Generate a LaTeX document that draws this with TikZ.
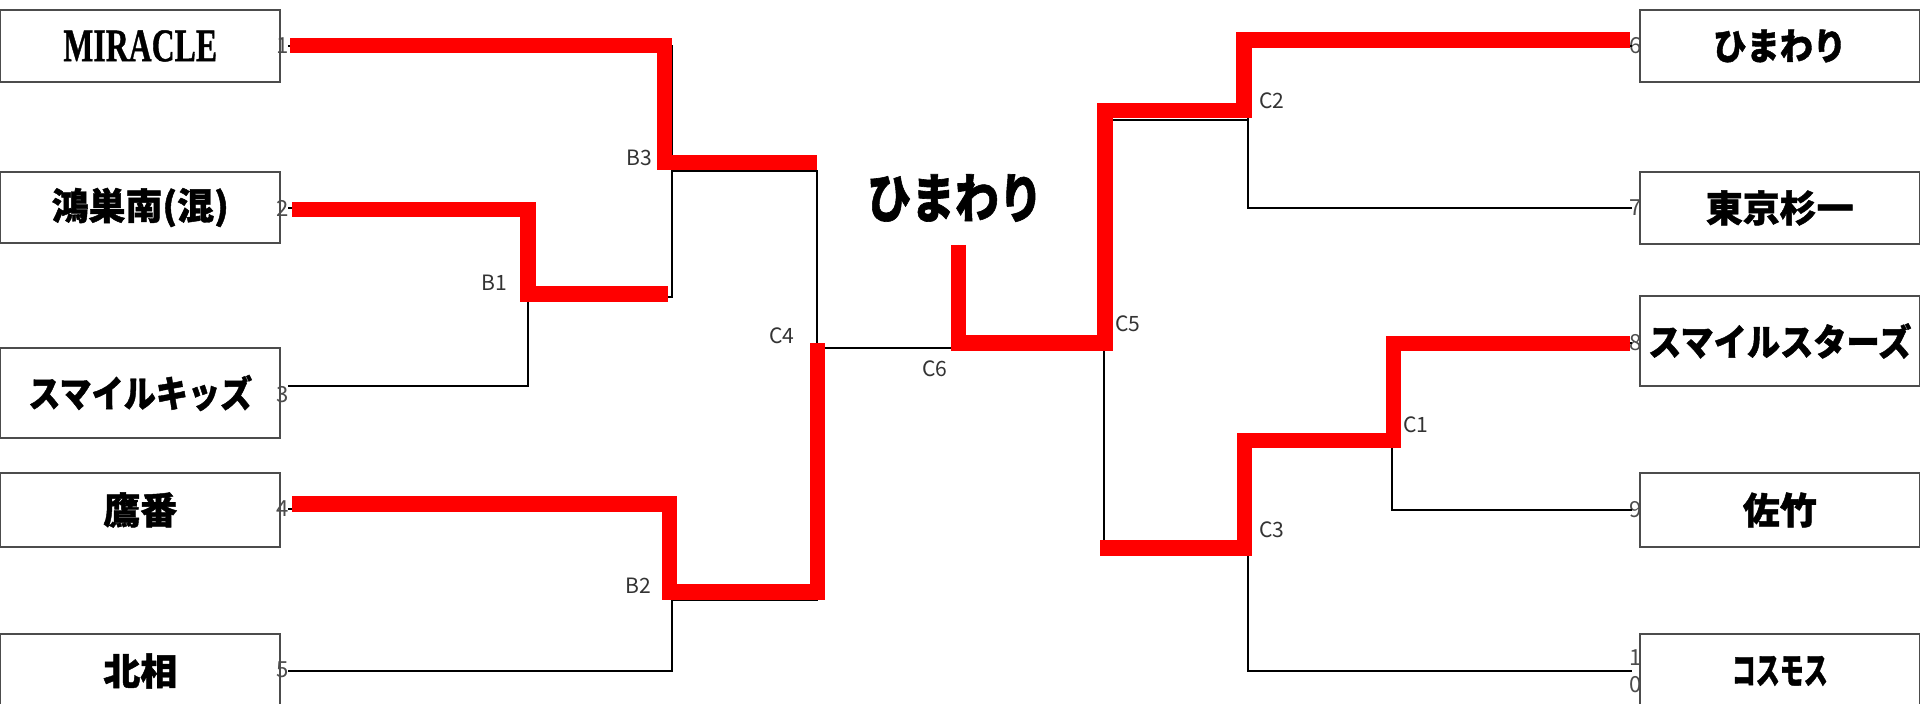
\documentclass[tikz,border=0pt]{standalone}
\usepackage{fontspec}
\usepackage{graphicx}
\setmainfont{Noto Sans CJK JP}
\newfontfamily\teamfont{Noto Sans CJK JP}[BoldFeatures={FakeBold=1.2}]
\newfontfamily\serifbf{Liberation Serif}[BoldFeatures={FakeBold=1}]
\newcommand{\squeeze}[2]{\scalebox{#1}[1]{#2}}
\tikzset{
  team/.style={draw=black!70, line width=0.5pt, minimum width=2.795cm, inner sep=0pt, font=\teamfont\bfseries\fontsize{10.5}{12}\selectfont},
  seed/.style={inner sep=0pt, text=black!70, font=\fontsize{6.3}{7.7}\selectfont},
  tag/.style={inner sep=0pt, text=black!80, font=\fontsize{6}{7}\selectfont},
  wire/.style={line width=0.7pt},
  win/.style={red, line width=4.4pt, line join=miter},
}
\begin{document}
\begin{tikzpicture}[x=0.01cm,y=-0.01cm]
\useasboundingbox (0,0) rectangle (1920,704);
% left block
\node[team,minimum height=0.72cm] (t1) at (140.25,46) {\serifbf\bfseries\fontsize{13.3}{14}\selectfont\squeeze{0.68}{MIRACLE}};
\node[team,minimum height=0.71cm] (t2) at (140.25,207.5) {鴻巣南(混)};
\node[team,minimum height=0.90cm] (t3) at (140.25,393) {\squeeze{0.87}{スマイルキッズ}};
\node[team,minimum height=0.74cm] (t4) at (140.25,510) {鷹番};
\node[team,minimum height=0.74cm] (t5) at (140.25,671) {北相};
% right block
\node[team,minimum height=0.72cm] (t6) at (1779.75,46) {\squeeze{0.9}{ひまわり}};
\node[team,minimum height=0.72cm] (t7) at (1779.75,208) {東京杉一};
\node[team,minimum height=0.90cm] (t8) at (1779.75,341) {\squeeze{0.9}{スマイルスターズ}};
\node[team,minimum height=0.74cm] (t9) at (1779.75,510) {佐竹};
\node[team,minimum height=0.74cm] (t10) at (1779.75,671) {\squeeze{0.65}{コスモス}};
% seed numbers
\node[seed] (n1) at (283,46) {1};
\node[seed] (n2) at (283,208) {2};
\node[seed] (n3) at (283,395) {3};
\node[seed] (n4) at (283,509) {4};
\node[seed] (n5) at (283,670) {5};
\node[seed] (n6) at (1636,46) {6};
\node[seed] (n7) at (1636,208) {7};
\node[seed] (n8) at (1636,343) {8};
\node[seed] (n9) at (1636,510) {9};
\node[seed,align=center] (n10) at (1636,671.5) {1\\0};
% line ends
\coordinate (e1) at (288,46);   \coordinate (e6) at (1632,46);
\coordinate (e2) at (288,208);  \coordinate (e7) at (1632,208);
\coordinate (e3) at (288,386);  \coordinate (e8) at (1632,343);
\coordinate (e4) at (288,509);  \coordinate (e9) at (1632,510);
\coordinate (e5) at (288,671);  \coordinate (e10) at (1632,671);
% match points
\coordinate (B1) at (528,297);
\coordinate (B2) at (672,600);
\coordinate (B3) at (672,171);
\coordinate (C1) at (1392,440);
\coordinate (C2) at (1248,120);
\coordinate (C3) at (1248,547);
\coordinate (C4) at (817,348);
\coordinate (C5) at (1104,348);
\coordinate (top) at (958,245);
% bracket
\draw[wire] (e2) -| (e3 -| B1) -- (e3);
\draw[wire] (e1) -- (e1 -| B3) |- (B1);
\draw[wire] (e4) -| (e5 -| B2) -- (e5);
\draw[wire] (B3) -| (B2 -| C4) -- (B2);
\draw[wire] (C4) -- (C5);
\draw[wire] (top) -- (top |- C4);
\draw[wire] (e6) -| (e7 -| C2) -- (e7);
\draw[wire] (e8) -| (e9 -| C1) -- (e9);
\draw[wire] (C1) -| (e10 -| C3) -- (e10);
\draw[wire] (C2) -- (C2 -| C5) -- (C3 -| C5) -- (C3);
% winners
\draw[win] (290,45.5) -- (664.5,45.5) -- (664.5,162.5) -- (817,162.5);
\draw[win] (292,209.5) -- (528,209.5) -- (528,294) -- (668,294);
\draw[win] (292,504) -- (669.5,504) -- (669.5,592) -- (817.5,592) -- (817.5,343);
\draw[win] (1630,343.5) -- (1393.5,343.5) -- (1393.5,440.5) -- (1244.5,440.5) -- (1244.5,548) -- (1100,548);
\draw[win] (958.5,245) -- (958.5,343) -- (1105,343) -- (1105,110.5) -- (1244,110.5) -- (1244,40) -- (1630,40);
% match labels
\node[tag] (lB1) at (494,283) {B1};
\node[tag] (lB2) at (638,586) {B2};
\node[tag] (lB3) at (639,158) {B3};
\node[tag] (lC1) at (1416,425) {C1};
\node[tag] (lC2) at (1272,101) {C2};
\node[tag] (lC3) at (1272,530) {C3};
\node[tag] (lC4) at (782,336) {C4};
\node[tag] (lC5) at (1128,324) {C5};
\node[tag] (lC6) at (935,369) {C6};
% champion
\node[inner sep=0pt,font=\teamfont\bfseries\fontsize{15.2}{16}\selectfont] (champ) at (955,198) {\squeeze{0.82}{ひまわり}};
\end{tikzpicture}
\end{document}
